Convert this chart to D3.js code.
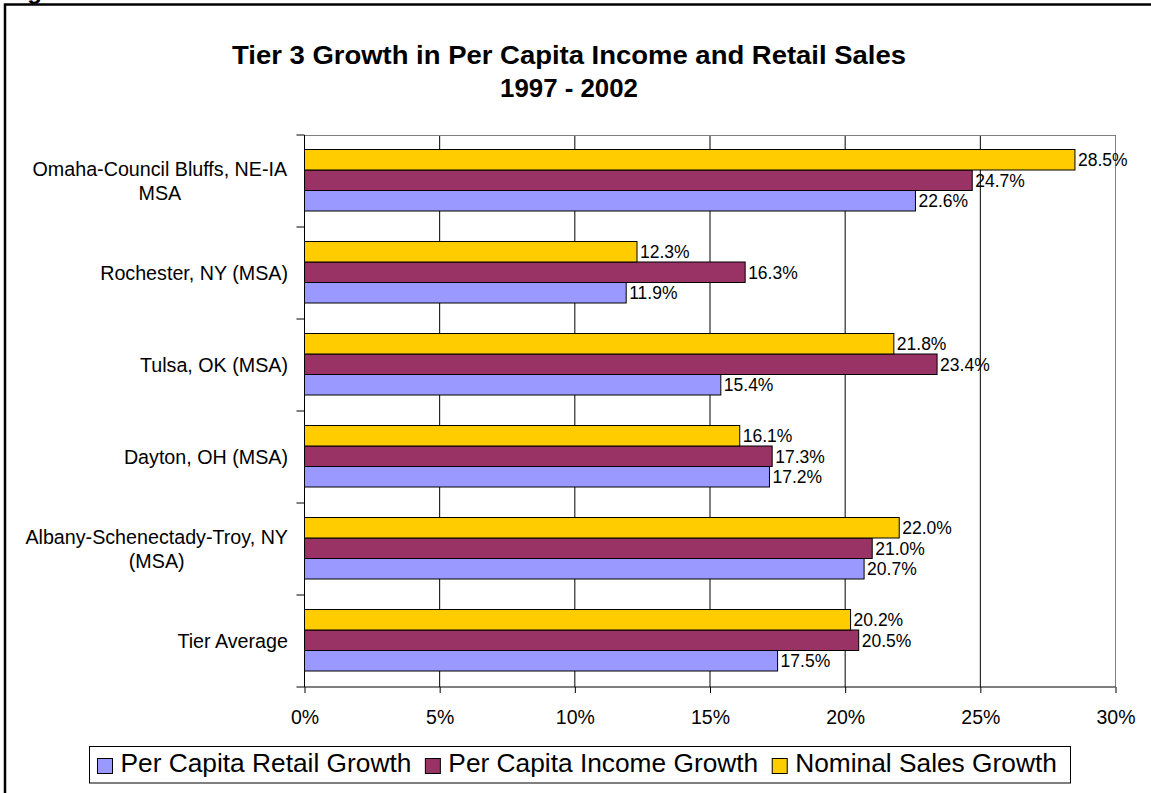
<!DOCTYPE html>
<html><head><meta charset="utf-8">
<script src="https://cdn.jsdelivr.net/npm/d3@7"></script>
<style>body{margin:0;background:#fff}svg{display:block;font-family:Arial,"Liberation Sans",sans-serif}</style>
</head><body><svg id="c" width="1151" height="793"></svg>
<script>
const categories = [
  ["Omaha-Council Bluffs, NE-IA", "MSA"],
  ["Rochester, NY (MSA)"],
  ["Tulsa, OK (MSA)"],
  ["Dayton, OH (MSA)"],
  ["Albany-Schenectady-Troy, NY", "(MSA)"],
  ["Tier Average"]
];
const seriesNames = ["Per Capita Retail Growth", "Per Capita Income Growth", "Nominal Sales Growth"];
const seriesColors = ["#9999FF", "#993366", "#FFCC00"];
const retailGrowth  = [22.6, 11.9, 15.4, 17.2, 20.7, 17.5];
const incomeGrowth  = [24.7, 16.3, 23.4, 17.3, 21.0, 20.5];
const nominalGrowth = [28.5, 12.3, 21.8, 16.1, 22.0, 20.2];
const xTicks = [0, 5, 10, 15, 20, 25, 30];
const titleLines = ["Tier 3 Growth in Per Capita Income and Retail Sales", "1997 - 2002"];

const series = [retailGrowth, incomeGrowth, nominalGrowth];
const svg = d3.select("#c");

// outer frame
svg.append("rect").attr("x",5).attr("y",4.5).attr("width",1160).attr("height",810)
  .attr("fill","none").attr("stroke","#000").attr("stroke-width",2.5);
svg.append("text").attr("x",6).attr("y",-1).attr("font-weight","bold")
  .attr("font-size",24).text("Figure");

// title
const title = svg.append("text").attr("text-anchor","middle").attr("font-weight","bold").attr("font-size",25);
title.append("tspan").attr("x",569).attr("y",64).attr("textLength",674).attr("lengthAdjust","spacingAndGlyphs").text(titleLines[0]);
title.append("tspan").attr("x",569).attr("y",97).attr("textLength",138).attr("lengthAdjust","spacingAndGlyphs").text(titleLines[1]);

const L = 304.5, R = 1115.5, T = 135, B = 687;
const x = d3.scaleLinear().domain([0,30]).range([L,R]);
const y = d3.scaleBand().domain(d3.range(categories.length)).range([T,B]);
const inner = d3.scaleBand().domain([2,1,0]).range([14.5, 14.5+61.5]);

// gridlines
svg.append("g").selectAll("line").data(xTicks.slice(1)).join("line")
  .attr("x1",d=>x(d)).attr("x2",d=>x(d)).attr("y1",T).attr("y2",B)
  .attr("stroke",(d,i)=> d===30 ? "#808080" : "#000").attr("stroke-width",1);
svg.append("line").attr("x1",L).attr("x2",R).attr("y1",T+0.5).attr("y2",T+0.5).attr("stroke","#808080");

// bars
const g = svg.append("g");
series.forEach((vals, si) => {
  g.append("g").selectAll("rect").data(vals).join("rect")
    .attr("x", L).attr("y", (d,i)=> y(i)+inner(si))
    .attr("width", d=> x(d)-L).attr("height", inner.bandwidth())
    .attr("fill", seriesColors[si]).attr("stroke","#000").attr("stroke-width",1);
  g.append("g").selectAll("text").data(vals).join("text")
    .attr("x", d=> x(d)+3).attr("y", (d,i)=> y(i)+inner(si)+inner.bandwidth()/2)
    .attr("dy","0.38em").attr("font-size",17.5).text(d=> d.toFixed(1)+"%");
});

// axes
const xAxis = d3.axisBottom(x).tickValues(xTicks).tickFormat(d=>d+"%").tickSize(6).tickPadding(17);
const ax = svg.append("g").attr("transform",`translate(0,${B})`).call(xAxis);
ax.select(".domain").attr("stroke","#000").attr("d",`M${L},0H${R}`);
ax.selectAll("line").attr("stroke","#000");
ax.selectAll("text").attr("font-size",19.5).attr("font-family","Arial,'Liberation Sans',sans-serif").attr("fill","#000");

const yTickPos = d3.range(categories.length+1).map(i => T + i*y.step());
const yax = svg.append("g");
yax.append("line").attr("x1",L).attr("x2",L).attr("y1",T).attr("y2",B).attr("stroke","#000");
yax.selectAll(".yt").data(yTickPos).join("line").attr("class","yt")
  .attr("x1",L-8).attr("x2",L).attr("y1",d=>d).attr("y2",d=>d).attr("stroke","#000");
categories.forEach((lines, i) => {
  const cy = y(i) + y.bandwidth()/2;
  const t = svg.append("text").attr("text-anchor","middle").attr("font-size",19.7);
  const n = lines.length, lh = 24.5;
  lines.forEach((ln, k) => {
    t.append("tspan").attr("x", 160).attr("y", cy + (k - (n-1)/2)*lh).attr("dy","0.36em").text(ln);
  });
  const bb = t.node().getBBox();
  t.attr("transform", `translate(${288 - (bb.x + bb.width)},0)`);
});

// legend
svg.append("rect").attr("x",89.5).attr("y",746.5).attr("width",981).attr("height",36.5)
  .attr("fill","#fff").attr("stroke","#000").attr("stroke-width",1);
let lx = 97.5;
seriesNames.forEach((name, i) => {
  svg.append("rect").attr("x",lx).attr("y",758.5).attr("width",15).attr("height",15)
    .attr("fill",seriesColors[i]).attr("stroke","#000");
  const t = svg.append("text").attr("x",lx+23).attr("y",772).attr("font-size",26.3).text(name);
  lx = lx + 23 + t.node().getComputedTextLength() + 14;
});
</script></body></html>
